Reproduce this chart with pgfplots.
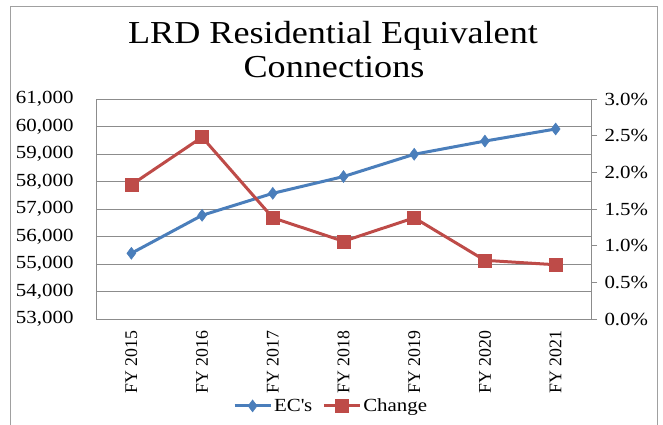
\documentclass[border=0pt]{standalone}
\usepackage{fontspec}
\setmainfont{Liberation Serif}[FakeStretch=1.13]
\newfontfamily\plainserif{Liberation Serif}
\usepackage{pgfplots}
\pgfplotsset{compat=1.18}
\definecolor{ecblue}{HTML}{4A7EBB}
\definecolor{chred}{HTML}{BE4B48}
\definecolor{gridgray}{HTML}{8C8C8C}
\definecolor{framegray}{HTML}{A0A0A0}

\pgfplotstableread{
x ec change
0 55390 1.83
1 56770 2.48
2 57570 1.38
3 58180 1.06
4 58990 1.38
5 59470 0.80
6 59910 0.74
}\rec

\begin{document}
\begin{tikzpicture}[x=1pt,y=1pt]
\path[use as bounding box] (0,0) rectangle (663,424);
\draw[framegray, line width=1pt] (10.5,-2) rectangle (657,417);
\node[font=\fontsize{32}{33}\selectfont, anchor=base, inner sep=0] at (333,380) {LRD Residential Equivalent};
\node[font=\fontsize{32}{33}\selectfont, anchor=base, inner sep=0] at (334,347) {Connections};

\begin{axis}[
  at={(96pt,105pt)}, anchor=south west,
  scale only axis, width=495pt, height=220pt,
  xmin=-0.5, xmax=6.5, ymin=53000, ymax=61000,
  ytick distance=1000,
  scaled y ticks=false,
  xtick={0,...,6},
  xticklabels={FY 2015,FY 2016,FY 2017,FY 2018,FY 2019,FY 2020,FY 2021},
  ymajorgrids, grid style={gridgray, line width=1pt},
  axis line style={gridgray, line width=1pt},
  major tick length=0pt,
  /pgf/number format/assume math mode=true,
  yticklabel={\pgfmathprintnumber[fixed,precision=0,1000 sep={,}]{\tick}},
  yticklabel style={font=\fontsize{18.5}{21}\selectfont, anchor=east, xshift=-19pt},
  xticklabel style={font=\plainserif\fontsize{17.8}{20}\selectfont, rotate=90, anchor=east, xshift=-8pt},
  clip=false,
]
\addplot[ecblue, line width=3pt, mark=diamond*, mark size=6pt, mark options={line width=0.5pt}] table[x=x, y=ec] {\rec};
\end{axis}

\begin{axis}[
  at={(96pt,105pt)}, anchor=south west,
  scale only axis, width=495pt, height=220pt,
  xmin=-0.5, xmax=6.5, ymin=0, ymax=3,
  ytick distance=0.5,
  axis x line=none, axis y line*=right,
  axis line style={gridgray, line width=1pt},
  y axis line style={-},
  tick style={gridgray, line width=1pt},
  major tick length=6pt, tick align=outside,
  /pgf/number format/assume math mode=true,
  yticklabel={\pgfmathprintnumber[fixed,fixed zerofill,precision=1]{\tick}\%},
  yticklabel style={font=\fontsize{18.5}{21}\selectfont, anchor=west, xshift=4pt},
  legend style={at={(0.475,-0.395)}, anchor=center, draw=none, fill=none,
    font=\fontsize{18.5}{21}\selectfont, /tikz/every even column/.append style={column sep=8pt}},
  legend columns=2,
  legend image code/.code={\draw[mark repeat=2,mark phase=2,#1] plot coordinates {(0pt,0pt) (18pt,0pt) (36pt,0pt)};},
  clip=false,
]
\addlegendimage{ecblue, line width=3pt, mark=diamond*, mark size=6pt, mark options={line width=0.5pt}}
\addlegendentry{EC\textquotesingle s}
\addplot[chred, line width=3pt, mark=square*, mark size=6.5pt, mark options={line width=0.5pt}] table[x=x, y=change] {\rec};
\addlegendentry{Change}
\end{axis}
\end{tikzpicture}
\end{document}
